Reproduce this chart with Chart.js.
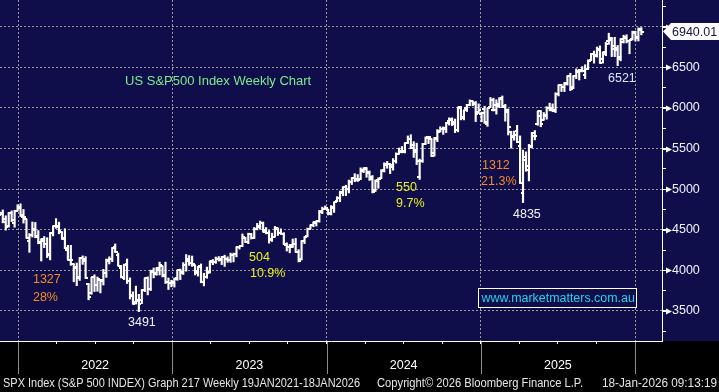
<!DOCTYPE html>
<html><head><meta charset="utf-8">
<script src="https://cdn.jsdelivr.net/npm/chart.js@4.4.1/dist/chart.umd.min.js"></script>
<style>html,body{margin:0;padding:0;background:#000;overflow:hidden}canvas{display:block}</style>
</head><body>
<canvas id="c" width="719" height="392"></canvas>
<script>
// ---- DATA (weekly bars, week ending Friday, first week ends 19 Nov 2021) ----
const firstWeekEnding = [2021, 10, 19];
const opens = [
4689,4712,4628,4548,4705,4587,4733,
4778,4655,4632,4356,4431,4505,4412,4332,4363,4328,4188,4462,4541,4537,4474,4385,4255,4130,4077,4041,3920,4151,4135,3838,3715,3920,3815,3880,3883,3965,4112,4142,4282,4195,4034,3910,4084,3871,3682,3610,3619,3632,3755,3901,3765,3977,3956,4005,4053,3940,3853,3844,
3853,3910,3999,3979,4071,4120,4096,4060,3992,4055,3855,3917,3985,4102,4100,4140,4134,4166,4136,4126,4190,4201,4282,4299,4404,4354,4450,4399,4510,4543,4584,4492,4459,4389,4415,4520,4464,4453,4317,4284,4289,4320,4225,4140,4358,4418,4511,4555,4581,4610,4725,4758,
4745,4703,4772,4848,4886,4957,5026,5001,5093,5131,5111,5123,5219,5257,5211,5150,4988,5115,5142,5233,5311,5315,5298,5341,5432,5459,5471,5572,5616,5543,5476,5151,5351,5559,5636,5623,5442,5615,5711,5737,5737,5838,5857,5826,5723,6008,5893,5993,6040,6083,6063,5944,5920,
5982,5801,6014,5969,5969,6046,6121,6027,5969,5705,5653,5718,5528,4953,5393,5232,5526,5655,5807,5902,5854,5897,6004,6004,5970,6174,6279,6255,6304,6397,6260,6389,6445,6457,6409,6485,6588,6661,6650,6721,6598,6690,6822,6866,6768,6710,6627,6813,6865,6819,6850,6925,6869,6960
];
const highs = [
4718,4744,4672,4713,4732,4740,4808,
4819,4749,4632,4453,4595,4590,4490,4385,4416,4402,4465,4546,4637,4594,4474,4513,4308,4308,4081,4090,4158,4178,4169,3838,3914,3945,3918,3880,4013,4140,4167,4281,4325,4212,4062,4077,4140,3907,3736,3806,3705,3762,3905,3920,4002,4029,4034,4101,4053,4101,3906,3878,
3906,4003,4016,4095,4195,4182,4176,4060,4049,4079,3964,4040,4110,4133,4164,4170,4170,4187,4166,4212,4213,4290,4299,4448,4408,4458,4456,4528,4578,4607,4595,4527,4490,4458,4541,4520,4511,4464,4339,4317,4386,4393,4255,4366,4415,4521,4560,4596,4610,4738,4779,4793,
4755,4798,4842,4907,4975,5030,5048,5111,5140,5190,5180,5262,5265,5264,5224,5168,5114,5139,5240,5325,5341,5315,5376,5447,5506,5524,5570,5655,5670,5585,5566,5370,5564,5643,5651,5623,5636,5733,5768,5767,5822,5878,5878,5863,6012,6017,5972,6044,6099,6085,6080,6050,5949,
6021,6000,6128,6120,6101,6128,6147,6044,5987,5713,5715,5786,5655,5481,5459,5551,5700,5721,5959,5969,5944,6016,6059,6050,6187,6284,6290,6315,6395,6427,6396,6481,6476,6508,6532,6592,6672,6700,6750,6764,6690,6807,6920,6866,6870,6770,6853,6895,6901,6835,6945,6945,6986,6990
];
const lows = [
4672,4585,4495,4532,4600,4531,4733,
4663,4582,4395,4222,4410,4401,4327,4115,4279,4157,4129,4424,4517,4450,4381,4267,4129,4062,3859,3811,3876,4074,3900,3637,3705,3739,3742,3722,3819,3913,4079,4107,4218,4057,3907,3886,3838,3647,3585,3585,3491,3590,3737,3698,3751,3907,3939,3943,3919,3838,3764,3797,
3794,3877,3886,3949,3990,4061,4048,3943,3929,3847,3809,3902,3966,4069,4086,4114,4071,4048,4099,4098,4104,4166,4262,4292,4341,4328,4385,4390,4498,4507,4474,4449,4335,4356,4414,4430,4446,4316,4238,4216,4284,4223,4104,4128,4329,4412,4511,4537,4546,4593,4698,4751,
4682,4682,4714,4845,4845,4918,4920,4953,5057,5091,5094,5117,5203,5146,5107,4953,4970,5011,5128,5211,5257,5191,5234,5320,5432,5447,5446,5562,5497,5390,5302,5120,5330,5550,5560,5402,5406,5585,5703,5674,5697,5789,5782,5696,5705,5853,5853,5956,6027,6026,5832,5932,5829,
5809,5773,6004,5962,5923,6003,6009,5837,5667,5505,5602,5572,5069,4835,5220,5101,5506,5607,5786,5768,5850,5861,5964,5953,5943,6148,6202,6201,6281,6212,6237,6361,6344,6443,6360,6473,6585,6551,6626,6550,6552,6643,6783,6632,6631,6521,6580,6799,6800,6667,6836,6823,6824,6900
];
const closes = [
4698,4595,4538,4712,4621,4725,4766,
4677,4663,4398,4432,4501,4419,4349,4385,4329,4204,4463,4543,4546,4488,4393,4272,4132,4123,4024,3901,4158,4109,3901,3675,3912,3825,3899,3863,3962,4130,4145,4280,4228,4058,3924,4067,3873,3693,3586,3640,3583,3752,3901,3771,3993,3965,4026,4072,3934,3852,3845,3840,
3895,3999,3973,4071,4136,4090,4079,3970,4046,3862,3917,3971,4109,4105,4138,4133,4169,4136,4124,4192,4205,4282,4299,4410,4348,4450,4399,4505,4536,4582,4478,4464,4370,4406,4515,4457,4450,4320,4288,4308,4327,4224,4117,4358,4415,4514,4559,4595,4604,4719,4755,4770,
4697,4784,4840,4891,4959,5027,5006,5089,5137,5124,5117,5234,5254,5204,5123,4967,5100,5128,5223,5303,5305,5278,5347,5431,5465,5460,5567,5615,5505,5459,5347,5344,5554,5635,5648,5408,5626,5703,5738,5751,5815,5865,5808,5729,5995,5870,5969,6032,6090,6051,5931,5971,5942,
5827,5997,6101,6041,6026,6115,6013,5955,5770,5639,5667,5581,5074,5363,5283,5525,5687,5660,5958,5803,5912,6000,5977,5968,6173,6279,6260,6297,6389,6238,6389,6450,6467,6460,6482,6584,6664,6644,6716,6553,6664,6792,6840,6728,6734,6603,6849,6870,6827,6835,6930,6858,6966,6940
];
const yTickValues = [3500,4000,4500,5000,5500,6000,6500];
const yearLabels = ['2022','2023','2024','2025'];
const lastPriceLabel = '6940.01';
const titleText = 'US S&P500 Index Weekly Chart';
const websiteText = 'www.marketmatters.com.au';
const footerParts = ['SPX Index (S&P 500 INDEX) Graph 217 Weekly 19JAN2021-18JAN2026','Copyright\u00A9 2026 Bloomberg Finance L.P.','18-Jan-2026 09:13:19'];

// ---- styling ----
const NAVY = '#0F0D4A', GRID = '#9a9a9a', ORANGE = '#F28C28', YELLOW = '#E9F020', WHITE = '#F2F2FF';
const FONT = '"Liberation Sans", Arial, sans-serif';

// week-end dates -> fractional year
const startT = Date.UTC(firstWeekEnding[0], firstWeekEnding[1], firstWeekEnding[2]);
const weekX = closes.map((_, i) => {
  const t = startT + i * 7 * 864e5; const y = new Date(t).getUTCFullYear();
  const a = Date.UTC(y, 0, 1), b = Date.UTC(y + 1, 0, 1); return y + (t - a) / (b - a);
});

function tickImg(side) {
  const c = document.createElement('canvas'); c.width = 5; c.height = 2;
  const g = c.getContext('2d'); g.fillStyle = '#ffffff';
  if (side === 'L') g.fillRect(0, 0, 3, 2); else g.fillRect(2, 0, 3, 2);
  return c;
}

// annotations in data coordinates (x = year, y = index level)
const notes = [
  {t:'1327', x:2022.097, y:3881, c:ORANGE}, {t:'28%', x:2022.097, y:3671, c:ORANGE},
  {t:'3491', x:2022.713, y:3363, c:WHITE},
  {t:'504', x:2023.498, y:4152, c:YELLOW}, {t:'10.9%', x:2023.504, y:3955, c:YELLOW},
  {t:'550', x:2024.451, y:5014, c:YELLOW}, {t:'9.7%', x:2024.451, y:4817, c:YELLOW},
  {t:'1312', x:2025.008, y:5285, c:ORANGE}, {t:'21.3%', x:2025.002, y:5088, c:ORANGE},
  {t:'4835', x:2025.209, y:4681, c:WHITE},
  {t:'6521', x:2025.825, y:6356, c:'#DCE8FF'}
];

const noPad = s => { s.paddingLeft = 0; s.paddingRight = 0; s.paddingTop = 0; s.paddingBottom = 0; };

const deco = {
  id: 'deco',
  beforeDraw(chart) {
    const {ctx, chartArea: a} = chart;
    ctx.save(); ctx.fillStyle = '#000'; ctx.fillRect(0, 0, chart.width, chart.height);
    ctx.fillStyle = NAVY; ctx.fillRect(0, 0, chart.width, a.bottom); ctx.restore();
  },
  afterDraw(chart) {
    const {ctx, chartArea: a, scales: {x: xs, y: ys}} = chart;
    ctx.save();
    // year separators in the date strip
    ctx.strokeStyle = '#8c8c8c'; ctx.lineWidth = 1;
    for (let yr = 2022; yr <= 2026; yr++) {
      const px = Math.round(xs.getPixelForValue(yr)) + 0.5;
      ctx.beginPath(); ctx.moveTo(px, a.bottom + 1); ctx.lineTo(px, a.bottom + 33); ctx.stroke();
    }
    // major tick arrows on price axis
    ctx.fillStyle = '#fff'; ctx.strokeStyle = '#fff';
    for (let v = 3500; v <= 7000; v += 500) {
      const py = Math.round(ys.getPixelForValue(v)) + 0.5;
      ctx.beginPath(); ctx.moveTo(a.right, py); ctx.lineTo(a.right + 5, py); ctx.stroke();
      ctx.beginPath(); ctx.moveTo(a.right + 4, py - 3); ctx.lineTo(a.right + 10, py); ctx.lineTo(a.right + 4, py + 3); ctx.closePath(); ctx.fill();
    }
    // last price label
    const lp = ys.getPixelForValue(closes[closes.length - 1]);
    ctx.fillStyle = '#fff';
    ctx.beginPath(); ctx.moveTo(a.right + 1, lp); ctx.lineTo(a.right + 9, lp - 8.5); ctx.lineTo(chart.width, lp - 8.5);
    ctx.lineTo(chart.width, lp + 8.5); ctx.lineTo(a.right + 9, lp + 8.5); ctx.closePath(); ctx.fill();
    ctx.fillStyle = '#14143a'; ctx.font = '12.5px ' + FONT; ctx.textBaseline = 'middle'; ctx.textAlign = 'left';
    ctx.fillText(lastPriceLabel, a.right + 10, lp + 0.5);
    // annotations
    ctx.font = '12.5px ' + FONT;
    notes.forEach(n => { ctx.fillStyle = n.c; ctx.fillText(n.t, xs.getPixelForValue(n.x), ys.getPixelForValue(n.y)); });
    // title
    ctx.font = '13px ' + FONT; ctx.fillStyle = '#7DEB8E';
    ctx.fillText(titleText, xs.getPixelForValue(2022.694), ys.getPixelForValue(6331));
    // website box
    const bx1 = xs.getPixelForValue(2024.985), bx2 = xs.getPixelForValue(2026.012);
    const by1 = ys.getPixelForValue(3780), by2 = ys.getPixelForValue(3545);
    ctx.fillStyle = NAVY; ctx.fillRect(bx1, by1, bx2 - bx1, by2 - by1);
    ctx.strokeStyle = '#fff'; ctx.lineWidth = 1; ctx.strokeRect(Math.round(bx1) + 0.5, Math.round(by1) + 0.5, Math.round(bx2 - bx1), Math.round(by2 - by1));
    ctx.font = '12.5px ' + FONT; ctx.fillStyle = '#22D3EE';
    ctx.fillText(websiteText, bx1 + 3, (by1 + by2) / 2 + 0.5, bx2 - bx1 - 5);
    // footer
    ctx.fillStyle = '#E6E6E6'; ctx.font = '12px ' + FONT;
    const fy = chart.height - 8;
    [[footerParts[0], 3, 357], [footerParts[1], 377, 206], [footerParts[2], 602, 115]].forEach(([t, x, w]) => {
      ctx.fillText(t, x, fy, w);
    });
    ctx.restore();
  }
};

new Chart(document.getElementById('c'), {
  type: 'bar',
  data: {
    datasets: [
      { type: 'bar', data: weekX.map((x, i) => ({x, y: [lows[i], highs[i]]})), backgroundColor: '#ffffff',
        borderWidth: 0, barThickness: 1.5, grouped: false, order: 2 },
      { type: 'scatter', data: weekX.map((x, i) => ({x, y: opens[i]})), pointStyle: tickImg('L'), pointRadius: 2, pointHoverRadius: 0, pointHitRadius: 0, order: 1 },
      { type: 'scatter', data: weekX.map((x, i) => ({x, y: closes[i]})), pointStyle: tickImg('R'), pointRadius: 2, pointHoverRadius: 0, pointHitRadius: 0, order: 1 }
    ]
  },
  options: {
    responsive: false, animation: false, devicePixelRatio: 1, events: [],
    layout: { padding: 0, autoPadding: false },
    plugins: { legend: { display: false }, tooltip: { enabled: false }, title: { display: false } },
    scales: {
      x: {
        type: 'linear', min: 2021.8833, max: 2026.175, offset: false,
        afterBuildTicks: s => { const t = []; for (let q = 2022 * 4; q <= 2026 * 4; q++) t.push({value: q / 4}); s.ticks = t; },
        ticks: { autoSkip: false, maxRotation: 0, color: '#ffffff', padding: 14, font: { family: FONT, size: 12.5 },
          callback: v => { const f = v - Math.floor(v); const yr = Math.floor(v); return (Math.abs(f - 0.5) < 1e-6 && yearLabels.includes(String(yr))) ? String(yr) : ''; } },
        grid: { offset: false, color: c => (c.tick && Math.abs(c.tick.value % 1) < 1e-6) ? GRID : 'rgba(0,0,0,0)',
          lineWidth: 1, drawTicks: true, tickLength: 3, tickColor: '#ffffff', tickBorderDash: [], tickWidth: 1 },
        border: { display: true, color: '#ffffff', width: 1, dash: [2, 2] },
        afterFit: s => { s.height = 51; noPad(s); }
      },
      y: {
        type: 'linear', position: 'right', min: 3130, max: 7329,
        afterBuildTicks: s => { const t = []; for (let v = 3250; v <= 7250; v += 250) t.push({value: v}); s.ticks = t; },
        ticks: { autoSkip: false, color: WHITE, padding: 6, font: { family: FONT, size: 12.5 },
          callback: v => yTickValues.includes(v) ? String(v) : '' },
        grid: { color: c => (c.tick && c.tick.value % 500 === 0) ? GRID : 'rgba(0,0,0,0)',
          lineWidth: 1, drawTicks: true, tickLength: 4, tickColor: '#ffffff', tickBorderDash: [], tickWidth: 1 },
        border: { display: true, color: '#ffffff', width: 1, dash: [2, 2] },
        afterFit: s => { s.width = 57; noPad(s); }
      }
    }
  },
  plugins: [deco]
});
</script>
</body></html>
